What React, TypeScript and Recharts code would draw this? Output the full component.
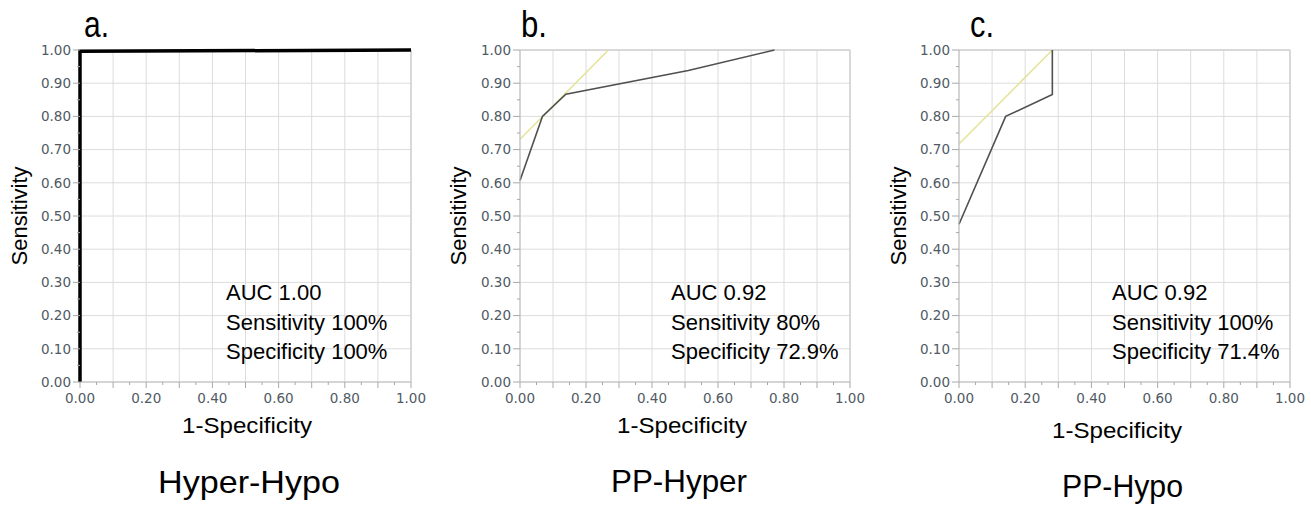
import React from "react";
import { LineChart, Line, XAxis, YAxis, CartesianGrid, ReferenceLine } from "recharts";

// ---------- data ----------
const axisTicks = [0, 0.05, 0.1, 0.15, 0.2, 0.25, 0.3, 0.35, 0.4, 0.45, 0.5, 0.55, 0.6, 0.65, 0.7, 0.75, 0.8, 0.85, 0.9, 0.95, 1];
const gridValues = [0, 0.1, 0.2, 0.3, 0.4, 0.5, 0.6, 0.7, 0.8, 0.9, 1];

const panelLetters = ["a.", "b.", "c."];
const panelTitles = ["Hyper-Hypo", "PP-Hyper", "PP-Hypo"];
const aucTexts = ["AUC 1.00", "AUC 0.92", "AUC 0.92"];
const sensTexts = ["Sensitivity 100%", "Sensitivity 80%", "Sensitivity 100%"];
const specTexts = ["Specificity 100%", "Specificity 72.9%", "Specificity 71.4%"];

// ROC curves (x = 1-Specificity, y = Sensitivity)
const rocAx = [0, 0, 1];
const rocAy = [0, 0.996, 1];

const rocBx = [0, 0.068, 0.139, 0.51, 0.771];
const rocBy = [0.607, 0.8, 0.867, 0.938, 1];
const tanBx = [0, 0.268];
const tanBy = [0.731, 1];

const rocCx = [0, 0.141, 0.282, 0.282];
const rocCy = [0.475, 0.8, 0.866, 1];
const tanCx = [0, 0.282];
const tanCy = [0.717, 1];

const zip = (xs: number[], ys: number[]) => xs.map((x, i) => ({ x, y: ys[i] }));

// ---------- layout ----------
const CH = 507;
const TOP = 50;
const XH = 60;
const MB = 65; // plot bottom = 507-65-60 = 382
const PLOT_BOTTOM = CH - MB - XH;

const panels = [
  { left: 0, width: 440, plotL: 80, plotR: 411, roc: zip(rocAx, rocAy), tan: null as null | { x: number; y: number }[], bold: true },
  { left: 440, width: 440, plotL: 80, plotR: 410, roc: zip(rocBx, rocBy), tan: zip(tanBx, tanBy), bold: false },
  { left: 880, width: 431, plotL: 79, plotR: 410, roc: zip(rocCx, rocCy), tan: zip(tanCx, tanCy), bold: false },
];

// text placement (absolute page coords)
const annoX = [226, 671, 1112];
const ylabX = [27, 466, 906];
const xlabCx = [247, 682, 1117];
const xlabBase = [433, 433, 438];
const letterX = [84, 521, 970];
const letterW = [25, 26, 24];
const titleX = [158, 611, 1062];
const titleW = [182, 136, 121];
const titleBase = [493, 492, 497];

const TICK_COLOR = "#505a64";
const TICK_FONT = "'DejaVu Sans', Verdana, sans-serif";
const TEXT_FONT = "'Liberation Sans', Arial, sans-serif";

const isMult = (v: number, m: number) => Math.round(v * 100) % m === 0;
const fmt = (v: number) => v.toFixed(2);

function makeYTick(axisX: number) {
  return (props: any) => {
    const { y, payload } = props;
    const v = payload.value as number;
    const major = isMult(v, 10);
    const len = major ? 7 : 3;
    return (
      <g>
        <line x1={axisX - len} x2={axisX} y1={y} y2={y} stroke="#a8a8a8" strokeWidth={1} />
        {major && (
          <text x={axisX - 9} y={y} dy="0.36em" textAnchor="end" fill={TICK_COLOR} fontSize={13.5} fontFamily={TICK_FONT}>
            {fmt(v)}
          </text>
        )}
      </g>
    );
  };
}

function makeXTick(axisY: number) {
  return (props: any) => {
    const { x, payload } = props;
    const v = payload.value as number;
    const major = isMult(v, 10);
    const len = major ? 6 : 3;
    return (
      <g>
        <line x1={x} x2={x} y1={axisY} y2={axisY + len} stroke="#a8a8a8" strokeWidth={1} />
        {isMult(v, 20) && (
          <text x={x} y={axisY + 16} dy="0.36em" textAnchor="middle" fill={TICK_COLOR} fontSize={13.5} fontFamily={TICK_FONT}>
            {fmt(v)}
          </text>
        )}
      </g>
    );
  };
}

function Panel({ p }: { p: (typeof panels)[number] }) {
  const marginRight = p.width - p.plotR;
  return (
    <div style={{ position: "absolute", left: p.left, top: 0, width: p.width, height: CH }}>
      <LineChart width={p.width} height={CH} margin={{ top: TOP, right: marginRight, bottom: MB, left: 0 }}>
        <CartesianGrid
          stroke="#dcdcdc"
          strokeWidth={1}
          horizontalValues={gridValues}
          verticalValues={gridValues}
        />
        <XAxis
          dataKey="x"
          type="number"
          domain={[0, 1]}
          ticks={axisTicks}
          interval={0}
          height={XH}
          axisLine={{ stroke: "#bcbcbc" }}
          tickLine={false}
          tick={makeXTick(PLOT_BOTTOM)}
        />
        <YAxis
          dataKey="y"
          type="number"
          domain={[0, 1]}
          ticks={axisTicks}
          interval={0}
          width={p.plotL}
          axisLine={p.bold ? false : { stroke: "#bcbcbc" }}
          tickLine={false}
          tick={makeYTick(p.plotL)}
        />
        <ReferenceLine x={1} stroke="#c4c4c4" />
        {!p.bold && <ReferenceLine y={1} stroke="#c4c4c4" />}
        {p.tan && (
          <Line data={p.tan} dataKey="y" stroke="#e6e39a" strokeWidth={1.6} dot={false} isAnimationActive={false} />
        )}
        <Line
          data={p.roc}
          dataKey="y"
          stroke={p.bold ? "#000000" : "#505050"}
          strokeWidth={p.bold ? 3.5 : 1.6}
          dot={false}
          isAnimationActive={false}
        />
      </LineChart>
    </div>
  );
}

export default function App() {
  return (
    <div style={{ position: "absolute", left: 0, top: 0, width: 1311, height: 507, background: "#ffffff", overflow: "hidden" }}>
      {panels.map((p, i) => (
        <Panel key={i} p={p} />
      ))}
      <svg width={1311} height={507} style={{ position: "absolute", left: 0, top: 0, pointerEvents: "none" }}>
        {panels.map((_, i) => (
          <g key={i} fontFamily={TEXT_FONT} fill="#000">
            <text x={letterX[i]} y={37} fontSize={37} textLength={letterW[i]} lengthAdjust="spacingAndGlyphs">
              {panelLetters[i]}
            </text>
            <text x={annoX[i]} y={300} fontSize={22}>{aucTexts[i]}</text>
            <text x={annoX[i]} y={329.5} fontSize={22}>{sensTexts[i]}</text>
            <text x={annoX[i]} y={359} fontSize={22}>{specTexts[i]}</text>
            <text
              x={ylabX[i]}
              y={216}
              fontSize={22}
              textAnchor="middle"
              transform={`rotate(-90 ${ylabX[i]} 216)`}
            >
              Sensitivity
            </text>
            <text
              x={xlabCx[i] - 65}
              y={xlabBase[i]}
              fontSize={22}
              textLength={130}
              lengthAdjust="spacingAndGlyphs"
            >
              1-Specificity
            </text>
            <text
              x={titleX[i]}
              y={titleBase[i]}
              fontSize={32}
              textLength={titleW[i]}
              lengthAdjust="spacingAndGlyphs"
            >
              {panelTitles[i]}
            </text>
          </g>
        ))}
      </svg>
    </div>
  );
}
